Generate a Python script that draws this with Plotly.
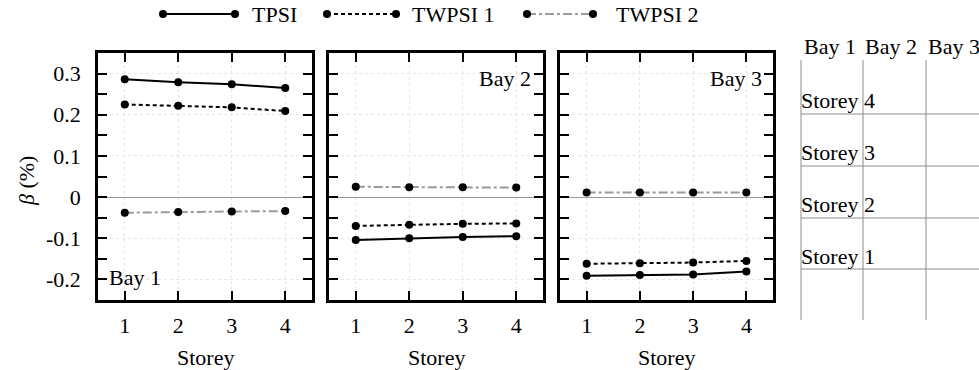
import plotly.graph_objects as go

W, H = 979, 370
FONT = "Liberation Serif, Times New Roman, Times, serif"

storeys = [1, 2, 3, 4]
bays = ["Bay 1", "Bay 2", "Bay 3"]
tpsi = [[0.286, 0.279, 0.274, 0.265],
        [-0.104, -0.100, -0.097, -0.095],
        [-0.191, -0.189, -0.188, -0.181]]
twpsi1 = [[0.225, 0.222, 0.218, 0.209],
          [-0.070, -0.067, -0.065, -0.064],
          [-0.162, -0.161, -0.159, -0.155]]
twpsi2 = [[-0.038, -0.036, -0.035, -0.034],
          [0.025, 0.024, 0.024, 0.023],
          [0.011, 0.011, 0.011, 0.011]]
series_names = ["TPSI", "TWPSI 1", "TWPSI 2"]
series_colors = ["black", "black", "#9a9a9a"]
series_dash = ["solid", "4px,3px", "9px,3px,3px,3px"]
table_header = ["Bay 1", "Bay 2", "Bay 3"]
table_rows = ["Storey 4", "Storey 3", "Storey 2", "Storey 1"]

def px(x):
    return x / W

def py(y):
    return 1 - y / H

panel_x = [(98, 312), (329, 543), (560, 773)]
ydom = [py(300), py(53)]

fig = go.Figure()
series = [tpsi, twpsi1, twpsi2]
for b in range(3):
    ax = "" if b == 0 else str(b + 1)
    for s in range(3):
        fig.add_trace(go.Scatter(
            x=storeys, y=series[s][b], mode="lines+markers",
            line=dict(color=series_colors[s], width=2, dash=series_dash[s]),
            marker=dict(color="black", size=8),
            name=series_names[s], showlegend=False,
            xaxis="x" + ax, yaxis="y" + ax, cliponaxis=False))

common_x = dict(range=[0.5, 4.5], tickvals=storeys, ticks="inside", ticklen=9,
                tickwidth=2, tickcolor="black", showline=True, linewidth=2.5,
                linecolor="black", mirror="ticks", showgrid=True,
                gridcolor="#e6e6e6", griddash="dot", zeroline=False,
                tickfont=dict(family=FONT, size=22, color="black"),
                ticklabelstandoff=4)
common_y = dict(range=[-0.25, 0.35], tickvals=[-0.2, -0.1, 0, 0.1, 0.2, 0.3],
                ticktext=["-0.2", "-0.1", "0", "0.1", "0.2", "0.3"],
                ticks="inside", ticklen=9, tickwidth=2, tickcolor="black",
                minor=dict(dtick=0.05, tick0=0, ticks="inside", ticklen=9,
                           tickwidth=2, tickcolor="black", showgrid=False),
                showline=True, linewidth=2.5, linecolor="black", mirror="ticks",
                showgrid=True, gridcolor="#e6e6e6", griddash="dot",
                zeroline=True, zerolinecolor="#999999", zerolinewidth=1,
                tickfont=dict(family=FONT, size=22, color="black"),
                ticklabelstandoff=10, domain=ydom)

layout = dict(width=W, height=H, margin=dict(l=0, r=0, t=0, b=0),
              plot_bgcolor="white", paper_bgcolor="white", showlegend=False,
              font=dict(family=FONT, size=22, color="black"))
for b in range(3):
    ax = "" if b == 0 else str(b + 1)
    xd = dict(common_x, domain=[px(panel_x[b][0]), px(panel_x[b][1])],
              anchor="y" + ax)
    yd = dict(common_y, anchor="x" + ax)
    if b > 0:
        yd["showticklabels"] = False
    layout["xaxis" + ax] = xd
    layout["yaxis" + ax] = yd
fig.update_layout(**layout)

ann = []
# x axis titles
for b in range(3):
    ann.append(dict(x=px((panel_x[b][0] + panel_x[b][1]) / 2), y=py(357),
                    text="Storey", showarrow=False, xanchor="center"))
# y axis title
ann.append(dict(x=px(26), y=py(181), text="<i>β</i> (%)", textangle=-90,
                showarrow=False, xanchor="center"))
# bay labels
ann.append(dict(x=px(107), y=py(277), text=bays[0], showarrow=False,
                xanchor="left"))
ann.append(dict(x=px(533), y=py(78), text=bays[1], showarrow=False,
                xanchor="right"))
ann.append(dict(x=px(764), y=py(78), text=bays[2], showarrow=False,
                xanchor="right"))
# legend
leg_lines = [(163, 235), (327, 396), (527, 593)]
leg_text_x = [250, 410, 614]
shapes = []
for i in range(3):
    x0, x1 = leg_lines[i]
    shapes.append(dict(type="line", xref="paper", yref="paper",
                       x0=px(x0), x1=px(x1), y0=py(14), y1=py(14),
                       line=dict(color=series_colors[i], width=2,
                                 dash=series_dash[i])))
    for xc in (x0, x1):
        shapes.append(dict(type="circle", xref="paper", yref="paper",
                           x0=px(xc - 4), x1=px(xc + 4),
                           y0=py(18), y1=py(10),
                           fillcolor="black", line=dict(width=0)))
    ann.append(dict(x=px(leg_text_x[i]), y=py(14), text=series_names[i],
                    xanchor="left", showarrow=False))
# table
col_x = [801, 863, 926]
for cx in col_x:
    shapes.append(dict(type="line", xref="paper", yref="paper",
                       x0=px(cx), x1=px(cx), y0=py(60), y1=py(320),
                       line=dict(color="#8c8c8c", width=1)))
for ry in [114, 166, 218, 269]:
    shapes.append(dict(type="line", xref="paper", yref="paper",
                       x0=px(801), x1=1, y0=py(ry), y1=py(ry),
                       line=dict(color="#8c8c8c", width=1)))
hdr_x = [802, 863, 926]
for i, t in enumerate(table_header):
    ann.append(dict(x=px(hdr_x[i]), y=py(46), text=t, xanchor="left",
                    showarrow=False))
row_y = [100, 152, 204, 256]
for i, t in enumerate(table_rows):
    ann.append(dict(x=px(799), y=py(row_y[i]), text=t, xanchor="left",
                    showarrow=False))

for a in ann:
    a.setdefault("xref", "paper")
    a.setdefault("yref", "paper")
    a["yanchor"] = "middle"
    a["font"] = dict(family=FONT, size=22, color="black")
fig.update_layout(annotations=ann, shapes=shapes)

fig.write_html("out.html")
